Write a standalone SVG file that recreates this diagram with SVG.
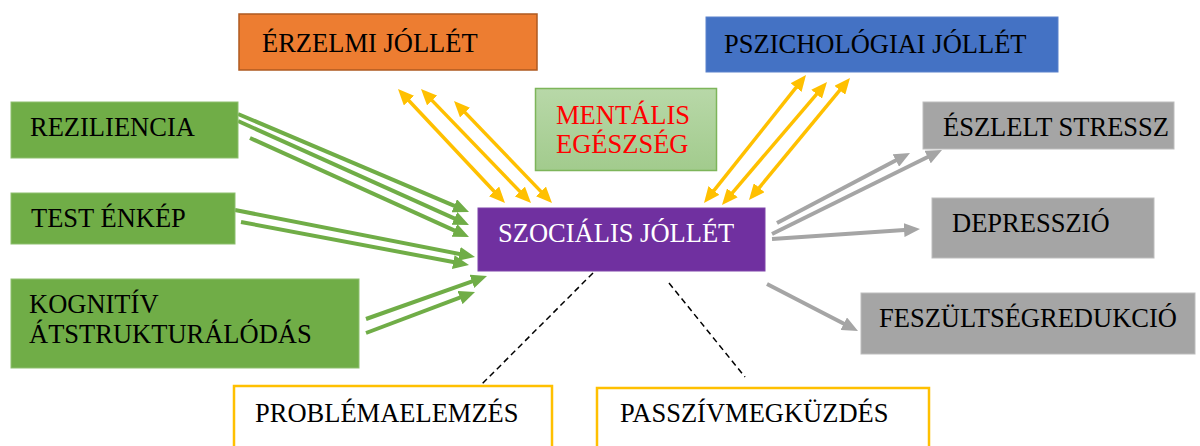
<svg xmlns="http://www.w3.org/2000/svg" width="1200" height="446" viewBox="0 0 1200 446">
<defs>
<style>
text{font-family:"Liberation Serif","Times New Roman",serif;font-size:26.5px;fill:#000}
.g{fill:#70AD47;stroke:#8DBF6E;stroke-width:1}
.gr{fill:#A5A5A5;stroke:#BDBDBD;stroke-width:1}
.yb{fill:#fff;stroke:#FFC000;stroke-width:2.5}
.ga{stroke:#70AD47;stroke-width:4;fill:none;marker-end:url(#hg)}
.gy{stroke:#A5A5A5;stroke-width:4;fill:none;marker-end:url(#hy)}
.go{stroke:#FFC000;stroke-width:3.5;fill:none;marker-end:url(#ho);marker-start:url(#hos)}
.da{stroke:#000;stroke-width:1.5;stroke-dasharray:6 4;fill:none}
</style>
<linearGradient id="mg" x1="0" y1="0" x2="0" y2="1">
<stop offset="0" stop-color="#B8D8A8"/>
<stop offset="1" stop-color="#A2CB8D"/>
</linearGradient>
<marker id="hg" markerUnits="userSpaceOnUse" viewBox="0 0 16 14" markerWidth="16" markerHeight="14" refX="4" refY="7" orient="auto"><path d="M0,0 L16,7 L0,14 z" fill="#70AD47"/></marker>
<marker id="hy" markerUnits="userSpaceOnUse" viewBox="0 0 16 14" markerWidth="16" markerHeight="14" refX="4" refY="7" orient="auto"><path d="M0,0 L16,7 L0,14 z" fill="#A5A5A5"/></marker>
<marker id="ho" markerUnits="userSpaceOnUse" viewBox="0 0 16 14" markerWidth="16" markerHeight="14" refX="4" refY="7" orient="auto"><path d="M0,0 L16,7 L0,14 z" fill="#FFC000"/></marker>
<marker id="hos" markerUnits="userSpaceOnUse" viewBox="0 0 16 14" markerWidth="16" markerHeight="14" refX="4" refY="7" orient="auto-start-reverse"><path d="M0,0 L16,7 L0,14 z" fill="#FFC000"/></marker>
</defs>
<rect width="1200" height="446" fill="#fff"/>

<g id="connectors">
<line class="ga" x1="238" y1="114" x2="457.95" y2="207.31"/>
<line class="ga" x1="238" y1="121" x2="458.06" y2="220.07"/>
<line class="ga" x1="250" y1="138" x2="458.06" y2="232.06"/>
<line class="ga" x1="235" y1="210" x2="463.22" y2="254.69"/>
<line class="ga" x1="241" y1="222" x2="457.21" y2="262.78"/>
<line class="ga" x1="366" y1="319" x2="475.69" y2="280.02"/>
<line class="ga" x1="366" y1="333" x2="463.77" y2="296.22"/>
<line class="gy" x1="777" y1="223" x2="899.38" y2="158.59"/>
<line class="gy" x1="772" y1="234" x2="931.24" y2="155.32"/>
<line class="gy" x1="772" y1="239" x2="908.03" y2="229.81"/>
<line class="gy" x1="767" y1="284" x2="847.34" y2="325.49"/>
<line class="go" x1="406.21" y1="97.75" x2="496.79" y2="194.25"/>
<line class="go" x1="429.33" y1="97.64" x2="522.67" y2="194.36"/>
<line class="go" x1="462.31" y1="109.65" x2="543.69" y2="194.35"/>
<line class="go" x1="798.52" y1="84.39" x2="711.48" y2="193.61"/>
<line class="go" x1="819.21" y1="91.13" x2="729.79" y2="195.87"/>
<line class="go" x1="842.35" y1="87.24" x2="756.65" y2="190.76"/>
<line class="da" x1="593" y1="273" x2="479" y2="387"/>
<line class="da" x1="669" y1="283" x2="745" y2="377"/>
</g>

<g id="erzelmi">
<rect x="239" y="14" width="298" height="56" fill="#ED7D31" stroke="#AE5A21" stroke-width="1.5"/>
<text x="262" y="52">ÉRZELMI JÓLLÉT</text>
</g>
<g id="pszichologiai">
<rect x="706" y="17" width="352" height="55" fill="#4472C4" stroke="#5B82CC" stroke-width="1"/>
<text x="724" y="53">PSZICHOLÓGIAI JÓLLÉT</text>
</g>
<g id="mentalis">
<rect x="535.5" y="88.5" width="181" height="82" fill="url(#mg)" stroke="#7DB55A" stroke-width="1.5"/>
<text x="556" y="124" style="fill:#FF0000">MENTÁLIS</text>
<text x="556" y="153" style="fill:#FF0000">EGÉSZSÉG</text>
</g>
<g id="reziliencia">
<rect class="g" x="11" y="102" width="227" height="56"/>
<text x="30" y="136">REZILIENCIA</text>
</g>
<g id="testenkep">
<rect class="g" x="11" y="193" width="224" height="51"/>
<text x="31" y="227">TEST ÉNKÉP</text>
</g>
<g id="kognitiv">
<rect class="g" x="11" y="279" width="348" height="89"/>
<text x="29" y="313">KOGNITÍV</text>
<text x="29" y="343">ÁTSTRUKTURÁLÓDÁS</text>
</g>
<g id="szocialis">
<rect x="478" y="208" width="287" height="63" fill="#7030A0" stroke="#7E45AA" stroke-width="1"/>
<text x="498" y="242" style="fill:#fff">SZOCIÁLIS JÓLLÉT</text>
</g>
<g id="eszlelt">
<rect class="gr" x="923" y="102" width="251" height="47"/>
<text x="943" y="136">ÉSZLELT STRESSZ</text>
</g>
<g id="depresszio">
<rect class="gr" x="932" y="198" width="222" height="60"/>
<text x="952" y="232">DEPRESSZIÓ</text>
</g>
<g id="feszultseg">
<rect class="gr" x="861" y="293" width="334" height="61"/>
<text x="879" y="327">FESZÜLTSÉGREDUKCIÓ</text>
</g>
<g id="problema">
<rect class="yb" x="234" y="386" width="318" height="80"/>
<text x="255" y="422">PROBLÉMAELEMZÉS</text>
</g>
<g id="passziv">
<rect class="yb" x="597" y="388" width="332" height="80"/>
<text x="620" y="422">PASSZÍVMEGKÜZDÉS</text>
</g>
</svg>
